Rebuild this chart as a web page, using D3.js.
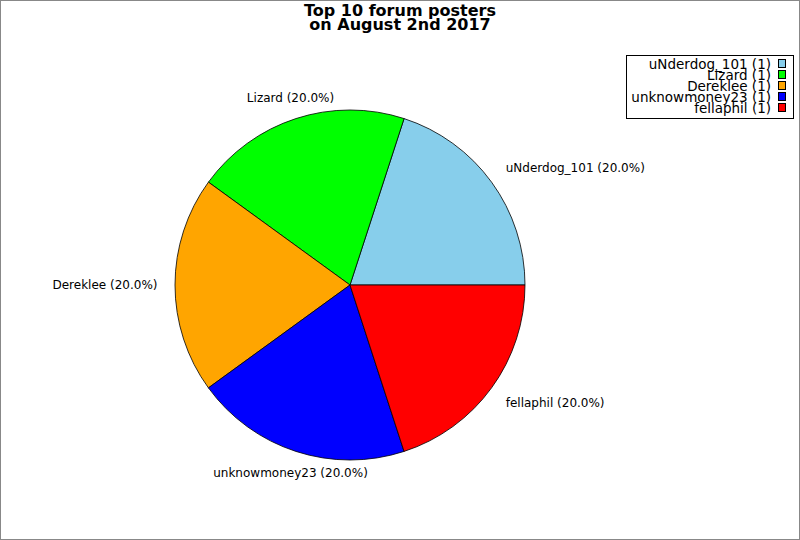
<!DOCTYPE html>
<html>
<head>
<meta charset="utf-8">
<script src="https://cdn.jsdelivr.net/npm/d3@7"></script>
<style>
  body { margin: 0; background: #fff; }
  svg { display: block; font-family: "DejaVu Sans", sans-serif; }
</style>
</head>
<body>
<svg id="chart" width="800" height="540"></svg>
<script>
// chart data
const posters = ["uNderdog_101", "Lizard", "Dereklee", "unknowmoney23", "fellaphil"]
const postCounts = [1, 1, 1, 1, 1]
const sliceColors = ["#87CEEB", "#00FF00", "#FFA500", "#0000FF", "#FF0000"]
const titleLines = ["Top 10 forum posters", "on August 2nd 2017"]

const svg = d3.select("#chart")
const total = d3.sum(postCounts)

const rows = posters.map((name, i) => ({ name, value: postCounts[i], color: sliceColors[i] }))

// outer frame
svg.append("rect")
  .attr("x", 0.5).attr("y", 0.5)
  .attr("width", 799).attr("height", 539)
  .attr("fill", "#fff")
  .attr("stroke", "#888")

// title
svg.append("text")
  .attr("text-anchor", "middle")
  .style("font-size", "16px")
  .style("font-weight", "bold")
  .selectAll("tspan")
  .data(titleLines)
  .enter()
  .append("tspan")
  .attr("x", 400)
  .attr("y", (d, i) => 16 + i * 14)
  .text((d) => d)

// pie starts at 3 o'clock and runs counterclockwise
const cx = 350, cy = 285, radius = 175
const pie = d3.pie()
  .sort(null)
  .value((d) => d.value)
  .startAngle(Math.PI / 2)
  .endAngle(Math.PI / 2 - 2 * Math.PI)

const arc = d3.arc().innerRadius(0).outerRadius(radius)
const labelArc = d3.arc().innerRadius(radius * 1.1).outerRadius(radius * 1.1)

const g = svg.append("g").attr("transform", `translate(${cx},${cy})`)

g.selectAll(".slice")
  .data(pie(rows))
  .enter()
  .append("path")
  .attr("class", "slice")
  .attr("d", arc)
  .attr("fill", (d) => d.data.color)
  .attr("stroke", "#000")
  .attr("stroke-width", 0.8)

// labels sit above the point in the top half, below it in the bottom half
g.selectAll(".label")
  .data(pie(rows))
  .enter()
  .append("text")
  .attr("class", "label")
  .attr("x", (d) => labelArc.centroid(d)[0])
  .attr("y", (d) => labelArc.centroid(d)[1])
  .attr("dy", (d) => {
    const y = labelArc.centroid(d)[1]
    if (y < -1) return "0em"
    if (y > 1) return "0.75em"
    return "0.35em"
  })
  .attr("text-anchor", (d) => {
    const x = labelArc.centroid(d)[0]
    if (x > radius * 0.5) return "start"
    if (x < -radius * 0.5) return "end"
    return "middle"
  })
  .style("font-size", "12px")
  .text((d) => `${d.data.name} (${(d.data.value / total * 100).toFixed(1)}%)`)

// legend
const legend = svg.append("g")
legend.append("rect")
  .attr("x", 626.5).attr("y", 55.5)
  .attr("width", 167).attr("height", 63)
  .attr("fill", "#fff")
  .attr("stroke", "#000")

const items = legend.selectAll(".item")
  .data(rows)
  .enter()
  .append("g")
  .attr("class", "item")
  .attr("transform", (d, i) => `translate(0,${i * 11})`)

items.append("text")
  .attr("x", 771)
  .attr("y", 68.5)
  .attr("text-anchor", "end")
  .style("font-size", "13.5px")
  .text((d) => `${d.name} (${d.value})`)

items.append("rect")
  .attr("x", 778.5).attr("y", 59.5)
  .attr("width", 7).attr("height", 8)
  .attr("fill", (d) => d.color)
  .attr("stroke", "#000")
</script>
</body>
</html>
